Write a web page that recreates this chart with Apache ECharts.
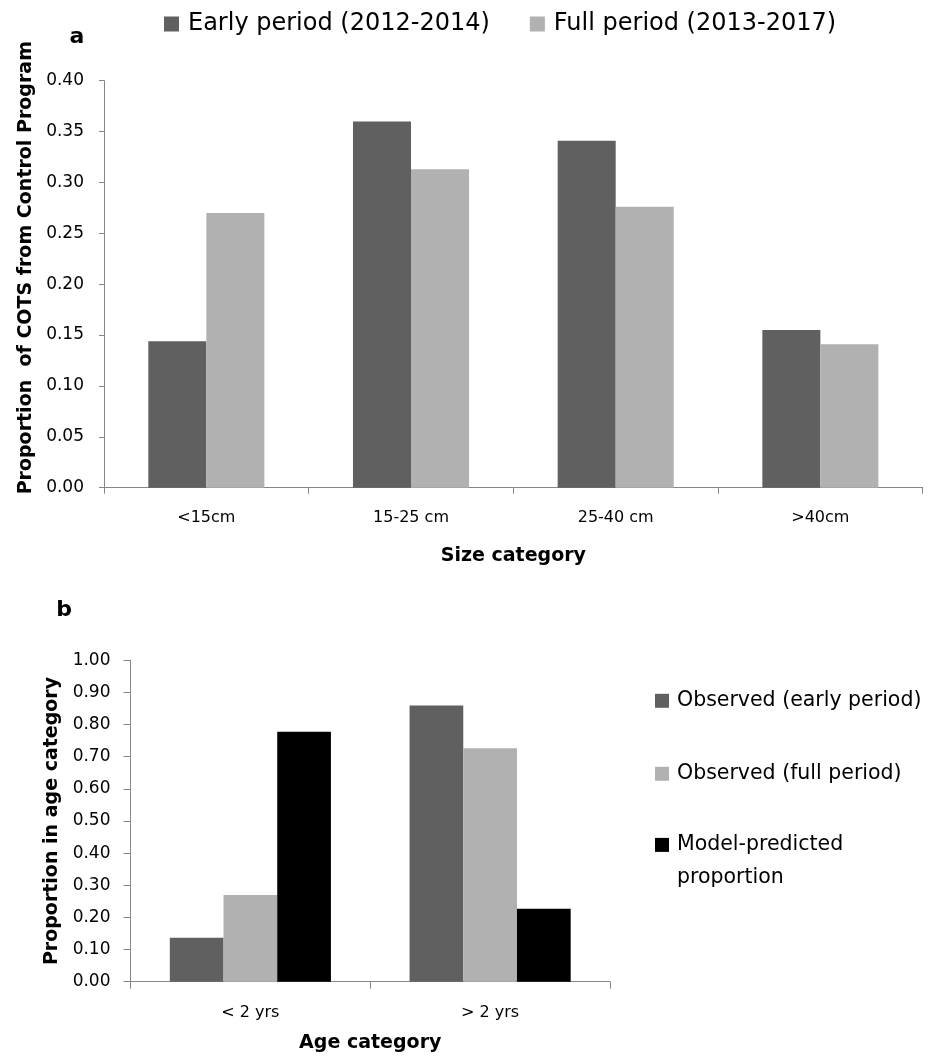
<!DOCTYPE html>
<html>
<head>
<meta charset="utf-8">
<script src="https://cdn.jsdelivr.net/npm/echarts@6/dist/echarts.min.js"></script>
<style>
html,body{margin:0;padding:0;background:#fff;}
#chart{width:936px;height:1060px;}
</style>
</head>
<body>
<div id="chart"></div>
<script>
// ---- data ----
const sizeCategories = ['<15cm', '15-25 cm', '25-40 cm', '>40cm'];
const earlyPeriodSize = [0.144, 0.360, 0.341, 0.155];
const fullPeriodSize = [0.270, 0.313, 0.276, 0.141];

const ageCategories = ['< 2 yrs', '> 2 yrs'];
const observedEarlyAge = [0.137, 0.859];
const observedFullAge = [0.270, 0.726];
const modelPredictedAge = [0.778, 0.227];

const seriesNamesA = ['Early period (2012-2014)', 'Full period (2013-2017)'];
const seriesNamesB = ['Observed (early period)', 'Observed (full period)', 'Model-predicted proportion'];

const DARK = '#606060', LIGHT = '#b1b1b1', BLACK = '#000000', AXIS = '#868686';
const FONT = 'DejaVu Sans';

const chart = echarts.init(document.getElementById('chart'), null, {renderer: 'canvas'});

const option = {
  animation: false,
  backgroundColor: '#ffffff',
  textStyle: {fontFamily: FONT, color: '#000'},
  grid: [
    {left: 104, top: 80.7, width: 818.7, height: 407, containLabel: false},
    {left: 130.5, top: 660.3, width: 479.5, height: 321.4, containLabel: false}
  ],
  legend: [
    {
      data: seriesNamesA,
      orient: 'horizontal',
      left: 164, top: 10, padding: 0,
      itemWidth: 15, itemHeight: 15, itemGap: 40,
      icon: 'rect',
      textStyle: {fontFamily: FONT, fontSize: 24, color: '#000', lineHeight: 28, padding: [0, 0, 0, 4]}
    },
    {
      data: [seriesNamesB[0], seriesNamesB[1]],
      orient: 'vertical',
      left: 655, top: 688.8, padding: 0,
      itemWidth: 14, itemHeight: 14, itemGap: 49,
      icon: 'rect',
      textStyle: {fontFamily: FONT, fontSize: 20.5, color: '#000', lineHeight: 24, padding: [0, 0, 0, 3]}
    },
    {
      data: [seriesNamesB[2]],
      orient: 'vertical',
      left: 655, top: 796.3, padding: 0,
      itemWidth: 14, itemHeight: 14,
      icon: 'rect',
      formatter: function (name) { return '\n' + name.replace(' ', '\n'); },
      textStyle: {fontFamily: FONT, fontSize: 20.5, color: '#000', lineHeight: 32.4, padding: [0, 0, 0, 3]}
    }
  ],
  graphic: [
    {type: 'text', x: 77, y: 37, style: {text: 'a', font: 'bold 22px "DejaVu Sans"', fill: '#000', align: 'center', verticalAlign: 'middle'}},
    {type: 'text', x: 64, y: 610, style: {text: 'b', font: 'bold 22px "DejaVu Sans"', fill: '#000', align: 'center', verticalAlign: 'middle'}}
  ],
  xAxis: [
    {
      type: 'category', gridIndex: 0, data: sizeCategories,
      name: 'Size category', nameLocation: 'middle', nameGap: 59,
      nameTextStyle: {fontFamily: FONT, fontSize: 19, fontWeight: 'bold', color: '#000'},
      axisLine: {lineStyle: {color: AXIS, width: 1}},
      axisTick: {show: true, length: 6, lineStyle: {color: AXIS}},
      axisLabel: {fontFamily: FONT, fontSize: 16, color: '#000', margin: 22},
      splitLine: {show: false}
    },
    {
      type: 'category', gridIndex: 1, data: ageCategories,
      name: 'Age category', nameLocation: 'middle', nameGap: 52,
      nameTextStyle: {fontFamily: FONT, fontSize: 19, fontWeight: 'bold', color: '#000'},
      axisLine: {lineStyle: {color: AXIS, width: 1}},
      axisTick: {show: true, length: 7, lineStyle: {color: AXIS}},
      axisLabel: {fontFamily: FONT, fontSize: 16, color: '#000', margin: 23},
      splitLine: {show: false}
    }
  ],
  yAxis: [
    {
      type: 'value', gridIndex: 0, min: 0, max: 0.4, interval: 0.05,
      name: 'Proportion  of COTS from Control Program', nameLocation: 'middle', nameGap: 66,
      nameTextStyle: {fontFamily: FONT, fontSize: 19, fontWeight: 'bold', color: '#000', padding: [0, 0, 0, 33]},
      axisLine: {show: true, lineStyle: {color: AXIS, width: 1}},
      axisTick: {show: true, length: 5, lineStyle: {color: AXIS}},
      axisLabel: {fontFamily: FONT, fontSize: 17, color: '#000', margin: 20, formatter: v => v.toFixed(2)},
      splitLine: {show: false}
    },
    {
      type: 'value', gridIndex: 1, min: 0, max: 1, interval: 0.1,
      name: 'Proportion in age category', nameLocation: 'middle', nameGap: 68,
      nameTextStyle: {fontFamily: FONT, fontSize: 19, fontWeight: 'bold', color: '#000'},
      axisLine: {show: true, lineStyle: {color: AXIS, width: 1}},
      axisTick: {show: true, length: 7, lineStyle: {color: AXIS}},
      axisLabel: {fontFamily: FONT, fontSize: 17, color: '#000', margin: 20, formatter: v => v.toFixed(2)},
      splitLine: {show: false}
    }
  ],
  series: [
    {name: seriesNamesA[0], type: 'bar', xAxisIndex: 0, yAxisIndex: 0, data: earlyPeriodSize,
     itemStyle: {color: DARK}, barGap: '0%', barCategoryGap: '43.3%'},
    {name: seriesNamesA[1], type: 'bar', xAxisIndex: 0, yAxisIndex: 0, data: fullPeriodSize,
     itemStyle: {color: LIGHT}, barGap: '0%', barCategoryGap: '43.3%'},
    {name: seriesNamesB[0], type: 'bar', xAxisIndex: 1, yAxisIndex: 1, data: observedEarlyAge,
     itemStyle: {color: DARK}, barGap: '0%', barCategoryGap: '32.8%'},
    {name: seriesNamesB[1], type: 'bar', xAxisIndex: 1, yAxisIndex: 1, data: observedFullAge,
     itemStyle: {color: LIGHT}, barGap: '0%', barCategoryGap: '32.8%'},
    {name: seriesNamesB[2], type: 'bar', xAxisIndex: 1, yAxisIndex: 1, data: modelPredictedAge,
     itemStyle: {color: BLACK}, barGap: '0%', barCategoryGap: '32.8%'}
  ]
};
chart.setOption(option);
</script>
</body>
</html>
